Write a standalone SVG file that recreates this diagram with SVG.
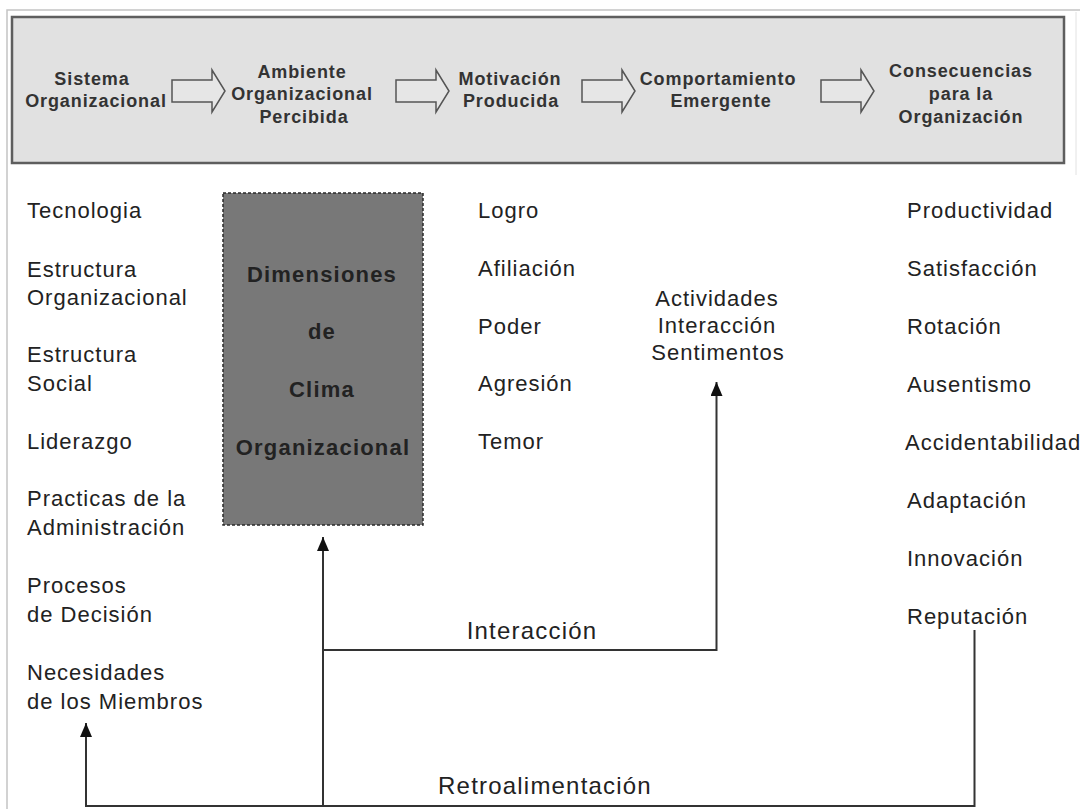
<svg xmlns="http://www.w3.org/2000/svg" width="1080" height="809" viewBox="0 0 1080 809">
<style>
  .top { font-family: "Liberation Sans", Arial, sans-serif; font-size: 18px; font-weight: bold; fill: #333; letter-spacing: 0.9px; text-anchor: middle; }
  .lst { font-family: "Liberation Sans", Arial, sans-serif; font-size: 22px; fill: #222; letter-spacing: 1px; }
  .mid { text-anchor: middle; }
  .dim { font-family: "Liberation Sans", Arial, sans-serif; font-size: 22px; font-weight: bold; fill: #222; letter-spacing: 1.2px; text-anchor: middle; }
  .lbl { font-family: "Liberation Sans", Arial, sans-serif; font-size: 24px; fill: #222; letter-spacing: 1.2px; text-anchor: middle; }
  .blk { fill: #e6e6e6; stroke: #555; stroke-width: 1.5; stroke-linejoin: miter; }
  .con { fill: none; stroke: #333; stroke-width: 2; }
</style>
<defs>
  <marker id="ah" markerUnits="userSpaceOnUse" viewBox="0 0 14 12" refX="14" refY="6" markerWidth="14" markerHeight="12" orient="auto">
    <path d="M0,0 L14,6 L0,12 z" fill="#111"/>
  </marker>
</defs>
<rect width="1080" height="809" fill="#fff"/>
<g id="frame" fill="none">
  <path d="M7,809 V10 H1080" stroke="#c4c4c4" stroke-width="1.5"/>
  <line x1="1076" y1="12" x2="1076" y2="175" stroke="#e2e2e2" stroke-width="1"/>
</g>
<g id="header">
  <rect x="12" y="17" width="1052" height="146" fill="#e1e1e1" stroke="#5e5e5e" stroke-width="2.5"/>
</g>
<g id="n-sistema">
  <text class="top" x="92" y="85">Sistema</text>
  <text class="top" x="96" y="107">Organizacional</text>
</g>
<g id="n-ambiente">
  <text class="top" x="302" y="78">Ambiente</text>
  <text class="top" x="302" y="100">Organizacional</text>
  <text class="top" x="304" y="123">Percibida</text>
</g>
<g id="n-motivacion">
  <text class="top" x="510" y="85">Motivación</text>
  <text class="top" x="511" y="107">Producida</text>
</g>
<g id="n-comportamiento">
  <text class="top" x="718" y="85">Comportamiento</text>
  <text class="top" x="721" y="107">Emergente</text>
</g>
<g id="n-consecuencias">
  <text class="top" x="961" y="77">Consecuencias</text>
  <text class="top" x="961" y="100">para la</text>
  <text class="top" x="961" y="123">Organización</text>
</g>
<g id="flow-arrows">
  <path class="blk" d="M172,80 H212 V70 L225,91 L212,112 V102 H172 Z"/>
  <path class="blk" d="M396,80 H436 V70 L449,91 L436,112 V102 H396 Z"/>
  <path class="blk" d="M582,80 H622 V70 L635,91 L622,112 V102 H582 Z"/>
  <path class="blk" d="M821,80 H861 V70 L874,91 L861,112 V102 H821 Z"/>
</g>
<g id="n-sistema-items">
  <text class="lst" x="27" y="218">Tecnologia</text>
  <text class="lst" x="27" y="277">Estructura</text>
  <text class="lst" x="27" y="305">Organizacional</text>
  <text class="lst" x="27" y="362">Estructura</text>
  <text class="lst" x="27" y="391">Social</text>
  <text class="lst" x="27" y="449">Liderazgo</text>
  <text class="lst" x="27" y="506">Practicas de la</text>
  <text class="lst" x="27" y="535">Administración</text>
  <text class="lst" x="27" y="593">Procesos</text>
  <text class="lst" x="27" y="622">de Decisión</text>
</g>
<g id="n-necesidades">
  <text class="lst" x="27" y="680">Necesidades</text>
  <text class="lst" x="27" y="709">de los Miembros</text>
</g>
<g id="n-dimensiones">
  <rect x="223" y="193" width="200" height="332" fill="#787878" stroke="#2a2a2a" stroke-width="1.5" stroke-dasharray="3,2"/>
  <text class="dim" x="322" y="282">Dimensiones</text>
  <text class="dim" x="322" y="339">de</text>
  <text class="dim" x="322" y="397">Clima</text>
  <text class="dim" x="323" y="455">Organizacional</text>
</g>
<g id="n-motivos">
  <text class="lst" x="478" y="218">Logro</text>
  <text class="lst" x="478" y="276">Afiliación</text>
  <text class="lst" x="478" y="334">Poder</text>
  <text class="lst" x="478" y="391">Agresión</text>
  <text class="lst" x="478" y="449">Temor</text>
</g>
<g id="n-actividades">
  <text class="lst mid" x="717" y="306">Actividades</text>
  <text class="lst mid" x="717" y="333">Interacción</text>
  <text class="lst mid" x="718" y="360">Sentimentos</text>
</g>
<g id="n-consecuencias-items">
  <text class="lst" x="907" y="218">Productividad</text>
  <text class="lst" x="907" y="276">Satisfacción</text>
  <text class="lst" x="907" y="334">Rotación</text>
  <text class="lst" x="907" y="392">Ausentismo</text>
  <text class="lst" x="905" y="450" letter-spacing="0.8">Accidentabilidad</text>
  <text class="lst" x="907" y="508">Adaptación</text>
  <text class="lst" x="907" y="566">Innovación</text>
  <text class="lst" x="907" y="624">Reputación</text>
</g>
<g id="connectors">
  <path class="con" d="M974.5,630 V806 H86 V723" stroke-width="2.5" marker-end="url(#ah)"/>
  <path class="con" d="M323,806 V537" stroke-width="1.8" marker-end="url(#ah)"/>
  <path class="con" d="M323,650 H716.5 V382" marker-end="url(#ah)"/>
  <text class="lbl" x="532" y="639">Interacción</text>
  <text class="lbl" x="545" y="794">Retroalimentación</text>
</g>
</svg>
